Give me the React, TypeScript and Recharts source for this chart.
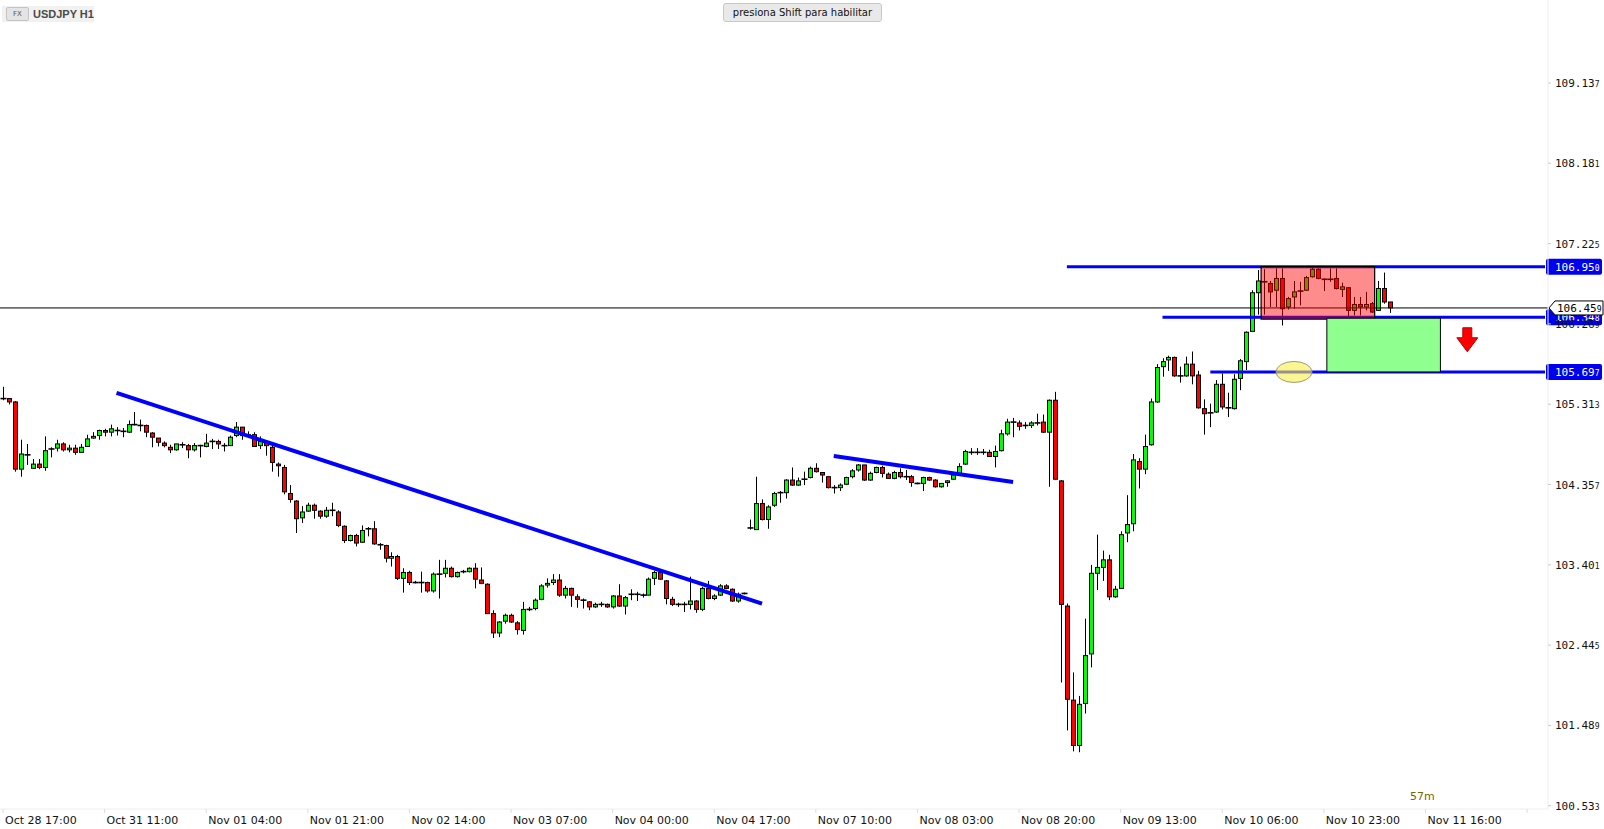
import React from 'react';
import {
  ComposedChart,
  Bar,
  XAxis,
  YAxis,
  ReferenceLine,
  ReferenceArea,
  ReferenceDot,
} from 'recharts';

const CHART_W = 1604;
const CHART_H = 829;
const Y_AXIS_W = 56;
const X_AXIS_H = 20;
const PLOT_RIGHT = CHART_W - Y_AXIS_W;
const SLOTS = 259; // candles + empty space to the right

// USDJPY H1 candles, one per hour from Oct 28 17:00
const OPEN = [
  105.38, 105.38, 105.34, 104.54, 104.71, 104.55, 104.6, 104.56, 104.78, 104.79,
  104.84, 104.77, 104.79, 104.74, 104.81, 104.91, 104.94, 105.0, 104.98, 105.0,
  104.99, 104.98, 105.07, 105.06, 105.06, 104.97, 104.91, 104.85, 104.8, 104.77,
  104.83, 104.82, 104.77, 104.82, 104.81, 104.87, 104.87, 104.82, 104.82, 104.94,
  105.04, 104.95, 104.95, 104.82, 104.86, 104.8, 104.6, 104.56, 104.25, 104.16,
  103.96, 104.04, 104.11, 104.04, 103.98, 104.05, 104.03, 103.86, 103.69, 103.75,
  103.67, 103.83, 103.83, 103.64, 103.63, 103.48, 103.5, 103.24, 103.31, 103.19,
  103.19, 103.19, 103.09, 103.29, 103.3, 103.36, 103.26, 103.32, 103.32, 103.36,
  103.22, 103.17, 102.82, 102.59, 102.73, 102.8, 102.71, 102.62, 102.87, 102.88,
  102.99, 103.16, 103.19, 103.22, 103.04, 103.12, 103.02, 102.98, 102.96, 102.9,
  102.93, 102.93, 102.9, 103.03, 102.91, 103.05, 103.05, 103.04, 103.04, 103.24,
  103.31, 103.21, 102.99, 102.93, 102.93, 102.93, 102.97, 102.87, 103.12, 103.0,
  103.04, 103.15, 103.11, 102.97, 103.06, 103.84, 103.82, 104.13, 103.94, 104.11,
  104.26, 104.26, 104.41, 104.35, 104.42, 104.44, 104.55, 104.5, 104.45, 104.32,
  104.32, 104.36, 104.45, 104.53, 104.59, 104.41, 104.5, 104.56, 104.48, 104.43,
  104.5, 104.45, 104.45, 104.37, 104.37, 104.44, 104.41, 104.33, 104.38, 104.42,
  104.47, 104.6, 104.74, 104.74, 104.74, 104.74, 104.69, 104.76, 104.96, 105.1,
  105.09, 105.06, 105.06, 105.09, 105.1, 104.98, 105.36, 104.4, 102.91, 101.79,
  101.25, 101.75, 102.34, 103.3, 103.37, 103.46, 103.02, 103.12, 103.78, 103.89,
  104.63, 104.54, 104.83, 105.34, 105.76, 105.84, 105.87, 105.65, 105.65, 105.79,
  105.66, 105.26, 105.21, 105.22, 105.55, 105.27, 105.26, 105.62, 105.82, 106.18,
  106.64, 106.77, 106.75, 106.67, 106.81, 106.47, 106.59, 106.66, 106.67, 106.83,
  106.92, 106.8, 106.8, 106.81, 106.68, 106.7, 106.43, 106.5, 106.47, 106.51,
  106.43, 106.69, 106.53,
];

const HIGH = [
  105.52, 105.38, 105.35, 104.89, 104.84, 104.66, 104.66, 104.93, 104.8, 104.89,
  104.86, 104.83, 104.83, 104.84, 104.95, 104.98, 105.01, 105.02, 105.07, 105.04,
  105.03, 105.12, 105.22, 105.13, 105.07, 104.98, 104.91, 104.87, 104.83, 104.84,
  104.86, 104.84, 104.85, 104.83, 104.96, 104.9, 104.89, 104.85, 104.94, 105.1,
  105.04, 104.99, 104.98, 104.93, 104.88, 104.82, 104.62, 104.59, 104.35, 104.17,
  104.1, 104.14, 104.13, 104.05, 104.09, 104.14, 104.05, 103.87, 103.76, 103.77,
  103.87, 103.85, 103.92, 103.66, 103.64, 103.55, 103.52, 103.36, 103.33, 103.21,
  103.32, 103.2, 103.31, 103.46, 103.46, 103.38, 103.32, 103.34, 103.37, 103.42,
  103.37, 103.18, 102.86, 102.73, 102.82, 102.82, 102.73, 102.96, 102.9, 103.0,
  103.17, 103.24, 103.29, 103.29, 103.15, 103.13, 103.05, 103.0, 102.97, 102.95,
  102.96, 102.94, 103.04, 103.17, 103.03, 103.11, 103.08, 103.06, 103.25, 103.33,
  103.33, 103.22, 103.02, 102.95, 102.96, 103.26, 102.98, 103.14, 103.21, 103.05,
  103.17, 103.17, 103.12, 103.07, 103.07, 103.94, 104.45, 104.18, 104.11, 104.27,
  104.28, 104.42, 104.56, 104.44, 104.51, 104.57, 104.61, 104.5, 104.45, 104.35,
  104.37, 104.45, 104.54, 104.6, 104.59, 104.51, 104.57, 104.58, 104.5, 104.52,
  104.55, 104.53, 104.47, 104.38, 104.45, 104.45, 104.42, 104.37, 104.41, 104.49,
  104.61, 104.77, 104.79, 104.79, 104.78, 104.77, 104.82, 105.01, 105.14, 105.15,
  105.12, 105.1, 105.11, 105.2, 105.19, 105.37, 105.46, 104.41, 102.94, 102.12,
  101.84, 102.76, 103.4, 103.76, 103.57, 103.52, 103.15, 103.8, 104.23, 104.72,
  104.67, 104.95, 105.38, 105.79, 105.86, 105.89, 105.88, 105.76, 105.88, 105.94,
  105.71, 105.37, 105.32, 105.6, 105.68, 105.45, 105.67, 105.85, 106.18, 106.67,
  106.91, 106.92, 106.78, 106.93, 106.93, 106.59, 106.78, 106.77, 106.84, 106.94,
  106.93, 106.81, 106.93, 106.93, 106.76, 106.7, 106.59, 106.59, 106.65, 106.53,
  106.78, 106.88, 106.53,
];

const LOW = [
  105.36, 105.31, 104.51, 104.45, 104.59, 104.55, 104.54, 104.52, 104.68, 104.75,
  104.75, 104.74, 104.71, 104.74, 104.81, 104.9, 104.89, 104.93, 104.93, 104.94,
  104.92, 104.97, 105.06, 104.99, 104.92, 104.8, 104.81, 104.8, 104.73, 104.76,
  104.79, 104.67, 104.75, 104.68, 104.8, 104.78, 104.78, 104.75, 104.82, 104.92,
  104.89, 104.91, 104.81, 104.78, 104.7, 104.51, 104.45, 104.24, 104.14, 103.78,
  103.9, 104.03, 103.95, 103.95, 103.96, 103.98, 103.85, 103.66, 103.68, 103.62,
  103.66, 103.74, 103.64, 103.58, 103.43, 103.38, 103.22, 103.07, 103.16, 103.18,
  103.07, 103.07, 103.07, 103.0, 103.25, 103.25, 103.25, 103.3, 103.31, 103.12,
  103.17, 102.82, 102.53, 102.54, 102.7, 102.71, 102.57, 102.57, 102.85, 102.86,
  102.98, 103.13, 103.16, 103.02, 103.0, 102.9, 102.89, 102.88, 102.86, 102.89,
  102.9, 102.89, 102.88, 102.9, 102.81, 102.98, 102.97, 103.01, 103.04, 103.16,
  103.22, 102.93, 102.91, 102.9, 102.84, 102.87, 102.83, 102.85, 102.99, 102.98,
  103.03, 103.11, 102.96, 102.95, 103.05, 103.82, 103.82, 103.93, 103.83, 104.09,
  104.14, 104.19, 104.34, 104.34, 104.35, 104.43, 104.5, 104.38, 104.31, 104.25,
  104.28, 104.35, 104.43, 104.51, 104.4, 104.4, 104.49, 104.44, 104.43, 104.42,
  104.43, 104.41, 104.33, 104.36, 104.28, 104.4, 104.32, 104.32, 104.33, 104.41,
  104.47, 104.59, 104.71, 104.71, 104.71, 104.69, 104.56, 104.75, 104.94, 104.92,
  105.0, 105.02, 105.03, 105.06, 104.97, 104.33, 104.41, 102.0, 101.43, 101.18,
  101.17, 101.63, 102.18, 103.1, 103.21, 102.98, 103.01, 103.12, 103.67, 103.8,
  104.31, 104.48, 104.82, 105.33, 105.64, 105.71, 105.64, 105.57, 105.64, 105.55,
  105.26, 104.95, 105.04, 105.21, 105.25, 105.16, 105.25, 105.48, 105.72, 106.18,
  106.38, 106.38, 106.47, 106.47, 106.25, 106.44, 106.45, 106.49, 106.66, 106.82,
  106.8, 106.66, 106.77, 106.68, 106.59, 106.26, 106.37, 106.37, 106.43, 106.4,
  106.43, 106.51, 106.4,
];

const CLOSE = [
  105.37, 105.34, 104.54, 104.72, 104.71, 104.6, 104.56, 104.76, 104.78, 104.84,
  104.77, 104.79, 104.74, 104.8, 104.9, 104.93, 105.0, 104.98, 105.02, 105.0,
  104.99, 105.07, 105.07, 105.06, 104.98, 104.92, 104.86, 104.82, 104.77, 104.84,
  104.83, 104.77, 104.82, 104.82, 104.85, 104.87, 104.84, 104.82, 104.92, 105.04,
  104.94, 104.93, 104.81, 104.87, 104.82, 104.62, 104.58, 104.27, 104.18, 103.95,
  104.03, 104.11, 104.05, 103.98, 104.05, 104.05, 103.87, 103.69, 103.75, 103.66,
  103.81, 103.83, 103.65, 103.64, 103.48, 103.5, 103.24, 103.31, 103.19, 103.19,
  103.19, 103.09, 103.29, 103.29, 103.36, 103.26, 103.31, 103.32, 103.36, 103.23,
  103.18, 102.82, 102.59, 102.72, 102.8, 102.72, 102.63, 102.87, 102.87, 102.98,
  103.15, 103.18, 103.22, 103.04, 103.12, 103.04, 102.99, 102.98, 102.9, 102.93,
  102.93, 102.9, 103.03, 102.91, 103.01, 103.05, 103.05, 103.04, 103.23, 103.31,
  103.23, 103.0, 102.93, 102.93, 102.93, 102.97, 102.87, 103.12, 103.0, 103.03,
  103.15, 103.12, 102.97, 103.05, 103.06, 103.84, 104.13, 103.94, 104.09, 104.25,
  104.26, 104.41, 104.35, 104.4, 104.42, 104.55, 104.51, 104.47, 104.32, 104.32,
  104.35, 104.44, 104.52, 104.59, 104.41, 104.49, 104.56, 104.49, 104.43, 104.5,
  104.45, 104.45, 104.38, 104.37, 104.44, 104.41, 104.33, 104.37, 104.4, 104.47,
  104.57, 104.75, 104.74, 104.74, 104.74, 104.69, 104.75, 104.96, 105.1, 105.09,
  105.05, 105.06, 105.09, 105.09, 104.98, 105.36, 104.42, 102.93, 101.8, 101.25,
  101.74, 102.32, 103.3, 103.37, 103.46, 103.02, 103.11, 103.76, 103.88, 104.65,
  104.54, 104.81, 105.34, 105.75, 105.82, 105.87, 105.65, 105.65, 105.79, 105.65,
  105.27, 105.2, 105.21, 105.55, 105.28, 105.27, 105.61, 105.83, 106.17, 106.64,
  106.78, 106.77, 106.65, 106.81, 106.45, 106.57, 106.65, 106.66, 106.82, 106.92,
  106.81, 106.8, 106.8, 106.69, 106.71, 106.43, 106.5, 106.47, 106.5, 106.41,
  106.69, 106.53, 106.46,
];

// one time label every 17 bars
const TICK_STEP = 17;
const TIME_LABELS = [
  'Oct 28 17:00', 'Oct 31 11:00', 'Nov 01 04:00', 'Nov 01 21:00', 'Nov 02 14:00',
  'Nov 03 07:00', 'Nov 04 00:00', 'Nov 04 17:00', 'Nov 07 10:00', 'Nov 08 03:00',
  'Nov 08 20:00', 'Nov 09 13:00', 'Nov 10 06:00', 'Nov 10 23:00', 'Nov 11 16:00',
];

const PRICE_TICKS = [
  100.533, 101.489, 102.445, 103.401, 104.357, 105.313, 106.269, 107.225, 108.181, 109.137,
];
const PRICE_DOMAIN = [100.494, 110.125];

const LAST_PRICE = 106.459;
const LEVEL_PRICES = [106.95, 106.348, 105.697];
const LEVEL_STARTS = [178, 194, 202];
const TREND_1 = [{ x: 19, y: 105.447 }, { x: 127, y: 102.938 }];
const TREND_2 = [{ x: 139, y: 104.696 }, { x: 169, y: 104.387 }];
const RANGE_BOX = { x1: 211, x2: 229, top: 106.95, bottom: 106.327 };
const TARGET_BOX = { x1: 222, x2: 240, top: 106.337, bottom: 105.697 };
const ELLIPSE_AT = { x: 216, y: 105.697 };
const ARROW_AT = { x: 245, y: 106.08 };

const BLUE = '#0000ff';
const MONO = '"DejaVu Sans Mono", monospace';
const SANS = '"DejaVu Sans", Verdana, sans-serif';

const rows = Array.from({ length: SLOTS }, (_, i) =>
  i < OPEN.length
    ? { slot: i, o: OPEN[i], h: HIGH[i], l: LOW[i], c: CLOSE[i], range: [LOW[i], HIGH[i]] }
    : { slot: i, range: null },
);

function splitPrice(p: number) {
  const s = p.toFixed(3);
  return [s.slice(0, -1), s.slice(-1)];
}

function Candle(props: any) {
  const { x, y, width, height, payload } = props;
  if (!payload || payload.o == null || !Number.isFinite(y)) return <g />;
  const { o, h, l, c } = payload;
  const cx = Math.round(x + width / 2) + 0.5;
  const yOf = (p: number) => (h === l ? y : y + ((h - p) / (h - l)) * height);
  const top = yOf(Math.max(o, c));
  const bot = yOf(Math.min(o, c));
  return (
    <g>
      <line x1={cx} x2={cx} y1={y} y2={y + height} stroke="#000" strokeWidth={1} />
      {bot - top < 1.5 ? (
        <line x1={cx - 3} x2={cx + 3} y1={top} y2={top} stroke="#000" strokeWidth={1.6} />
      ) : (
        <rect
          x={cx - 2}
          y={top}
          width={4}
          height={bot - top}
          fill={c >= o ? '#00ff00' : '#ff0000'}
          stroke="#000"
          strokeWidth={1}
        />
      )}
    </g>
  );
}

function PriceTick({ x, y, payload }: any) {
  const [main, last] = splitPrice(payload.value);
  return (
    <text x={x} y={y} dy={4} fontFamily={MONO} fontSize={11} fill="#111">
      {main}
      <tspan fontSize={8}>{last}</tspan>
    </text>
  );
}

function TimeTick({ x, y, payload }: any) {
  const label = TIME_LABELS[payload.value / TICK_STEP];
  if (!label) return <g />;
  return (
    <text x={x + 2} y={y} dy={9} fontFamily={SANS} fontSize={11} fill="#111">
      {label}
    </text>
  );
}

function levelLabel(price: number) {
  return ({ viewBox }: any) => {
    const [main, last] = splitPrice(price);
    const cy = viewBox.y;
    return (
      <g>
        <rect x={PLOT_RIGHT - 2} y={cy - 8} width={56} height={16} rx={2} fill="#0000f0" />
        <text x={PLOT_RIGHT + 7} y={cy} dy={4} fontFamily={MONO} fontSize={11} fill="#fff">
          {main}
          <tspan fontSize={8}>{last}</tspan>
        </text>
      </g>
    );
  };
}

function LastPriceLabel({ viewBox }: any) {
  const [main, last] = splitPrice(LAST_PRICE);
  const cy = viewBox.y;
  const x0 = PLOT_RIGHT + 1;
  return (
    <g>
      <path
        d={`M${x0},${cy} L${x0 + 6},${cy - 7} H${x0 + 54} V${cy + 7} H${x0 + 6} Z`}
        fill="#fff"
        stroke="#000"
        strokeWidth={1}
      />
      <text x={x0 + 8} y={cy} dy={4} fontFamily={MONO} fontSize={11} fill="#000">
        {main}
        <tspan fontSize={8}>{last}</tspan>
      </text>
    </g>
  );
}

function EllipseMark({ cx, cy }: any) {
  return (
    <ellipse cx={cx} cy={cy} rx={18} ry={10.5} fill="rgba(250,240,70,0.6)" stroke="#9a9a80" strokeWidth={1} />
  );
}

function ArrowMark({ cx, cy }: any) {
  const d = `M${cx - 4.5},${cy - 12} H${cx + 4.5} V${cy - 2} H${cx + 10.5} L${cx},${cy + 12} L${cx - 10.5},${cy - 2} H${cx - 4.5} Z`;
  return <path d={d} fill="#ff0000" stroke="#b00000" strokeWidth={1} />;
}

export default function App() {
  return (
    <div style={{ position: 'absolute', left: 0, top: 0, width: CHART_W, height: CHART_H, background: '#fff' }}>
      <ComposedChart
        width={CHART_W}
        height={CHART_H}
        data={rows}
        margin={{ top: 0, right: 0, bottom: 0, left: 0 }}
        barCategoryGap={0}
      >
        <XAxis
          dataKey="slot"
          type="category"
          interval={TICK_STEP - 1}
          height={X_AXIS_H}
          tick={<TimeTick />}
          tickSize={4}
          tickLine={{ stroke: '#ddd' }}
          axisLine={{ stroke: '#eeeeee' }}
        />
        <YAxis
          orientation="right"
          type="number"
          domain={PRICE_DOMAIN}
          ticks={PRICE_TICKS}
          interval={0}
          allowDataOverflow
          width={Y_AXIS_W}
          tick={<PriceTick />}
          tickSize={3}
          tickMargin={4}
          tickLine={{ stroke: '#ccc' }}
          axisLine={{ stroke: '#eeeeee' }}
        />
        <Bar dataKey="range" shape={Candle} isAnimationActive={false} />

        <ReferenceLine y={LAST_PRICE} stroke="#000" strokeWidth={1} />
        <ReferenceLine segment={TREND_1} stroke={BLUE} strokeWidth={4} />
        <ReferenceLine segment={TREND_2} stroke={BLUE} strokeWidth={4} />
        {LEVEL_PRICES.map((p, k) => (
          <ReferenceLine
            key={p}
            segment={[{ x: LEVEL_STARTS[k], y: p }, { x: SLOTS - 1, y: p }]}
            stroke={BLUE}
            strokeWidth={3}
            label={levelLabel(p)}
          />
        ))}
        <ReferenceLine y={LAST_PRICE} stroke="none" label={LastPriceLabel} />

        <ReferenceArea
          x1={RANGE_BOX.x1}
          x2={RANGE_BOX.x2}
          y1={RANGE_BOX.bottom}
          y2={RANGE_BOX.top}
          fill="#ff0000"
          fillOpacity={0.45}
          stroke="#000"
          strokeWidth={1.2}
          zIndex={450}
        />
        <ReferenceArea
          x1={TARGET_BOX.x1}
          x2={TARGET_BOX.x2}
          y1={TARGET_BOX.bottom}
          y2={TARGET_BOX.top}
          fill="#8fff8f"
          fillOpacity={1}
          stroke="#000"
          strokeWidth={1}
          zIndex={450}
        />
        <ReferenceDot x={ELLIPSE_AT.x} y={ELLIPSE_AT.y} r={10} shape={EllipseMark} />
        <ReferenceDot x={ARROW_AT.x} y={ARROW_AT.y} r={10} shape={ArrowMark} />
      </ComposedChart>

      {/* header badge */}
      <div
        style={{
          position: 'absolute',
          left: 2,
          top: 6,
          width: 92,
          height: 16,
          background: '#f1f1f1',
          display: 'flex',
          alignItems: 'center',
        }}
      >
        <span
          style={{
            marginLeft: 4,
            width: 21,
            height: 12,
            background: '#e4e4e4',
            border: '1px solid #c4c4c4',
            borderRadius: 2,
            fontFamily: SANS,
            fontSize: 7,
            color: '#555',
            display: 'inline-flex',
            alignItems: 'center',
            justifyContent: 'center',
          }}
        >
          FX
        </span>
        <span
          style={{
            marginLeft: 4,
            fontFamily: '"Liberation Sans", Arial, sans-serif',
            fontSize: 11,
            fontWeight: 700,
            color: '#4a4a4a',
          }}
        >
          USDJPY H1
        </span>
      </div>

      <div
        style={{
          position: 'absolute',
          left: 723,
          top: 3,
          width: 157,
          height: 17,
          background: '#e9e9e9',
          border: '1px solid #c8c8c8',
          borderRadius: 3,
          fontFamily: SANS,
          fontSize: 10,
          color: '#111',
          display: 'flex',
          alignItems: 'center',
          justifyContent: 'center',
          whiteSpace: 'nowrap',
        }}
      >
        presiona Shift para habilitar
      </div>

      <div
        style={{
          position: 'absolute',
          left: 1410,
          top: 790,
          fontFamily: SANS,
          fontSize: 11,
          color: '#7a6400',
        }}
      >
        57m
      </div>
    </div>
  );
}
